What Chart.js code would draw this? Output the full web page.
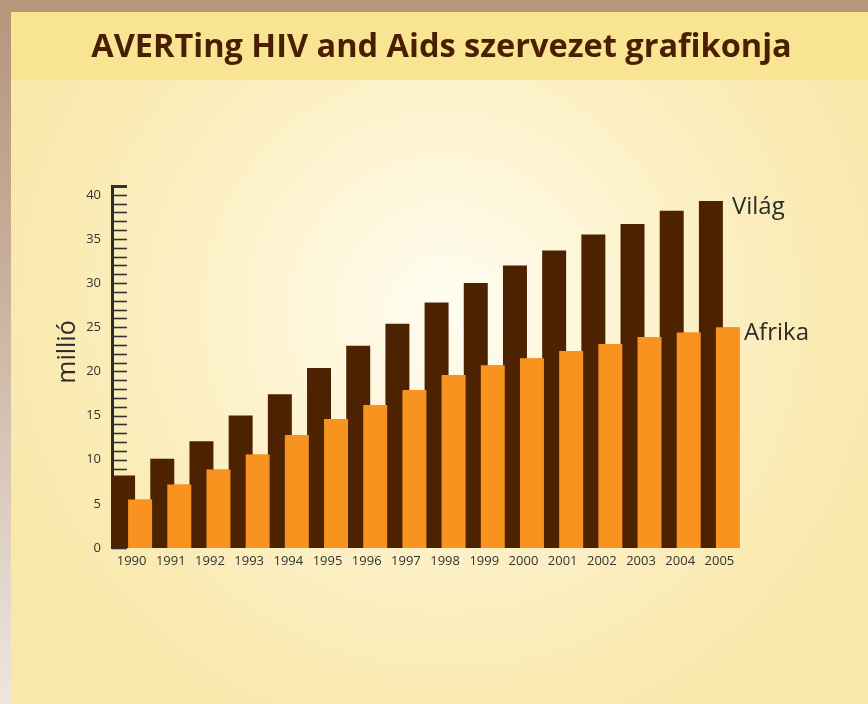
<!DOCTYPE html>
<html>
<head>
<meta charset="utf-8">
<script src="https://cdn.jsdelivr.net/npm/chart.js@4.4.1/dist/chart.umd.min.js"></script>
<style>
  html, body { margin: 0; padding: 0; }
  body { width: 868px; height: 704px; position: relative; overflow: hidden;
         background: linear-gradient(to bottom, #b6957a 0%, #c9b09c 40%, #ede6df 100%); }
  #topstrip { position: absolute; left: 0; top: 0; width: 868px; height: 12px; background: #b8977c; }
  #panel { position: absolute; left: 11px; top: 12px; width: 857px; height: 692px;
           background: radial-gradient(circle 480px at 435px 300px, #fffdf3 0%, #fef6d8 30%, #fcefc4 55%, #faebb3 80%, #f9e8aa 100%); }
  #band { position: absolute; left: 11px; top: 12px; width: 857px; height: 68px; background: #f9e494; }
  #wrap { position: absolute; left: 0; top: 0; width: 868px; height: 704px; }
</style>
</head>
<body>
<div id="topstrip"></div>
<div id="panel"></div>
<div id="band"></div>
<div id="wrap"><canvas id="c" width="868" height="704"></canvas></div>
<script>
const years = ['1990','1991','1992','1993','1994','1995','1996','1997','1998','1999','2000','2001','2002','2003','2004','2005'];
const vilag  = [8.2, 10.1, 12.1, 15.0, 17.4, 20.4, 22.9, 25.4, 27.8, 30.0, 32.0, 33.7, 35.5, 36.7, 38.2, 39.3];
const afrika = [5.5, 7.2, 8.9, 10.6, 12.8, 14.6, 16.2, 17.9, 19.6, 20.7, 21.5, 22.3, 23.1, 23.9, 24.4, 25.0];
const seriesNames = ['Világ', 'Afrika'];
const titleText = 'AVERTing HIV and Aids szervezet grafikonja';
const yTitle = 'millió';
const FONT = '"Open Sans", "Noto Sans", sans-serif';

const innerTicks = {
  id: 'innerTicks',
  beforeDatasetsDraw(chart) {
    const y = chart.scales.y, ctx = chart.ctx, x0 = chart.chartArea.left;
    ctx.save();
    ctx.strokeStyle = '#333333';
    y.ticks.forEach(t => {
      const py = Math.round(y.getPixelForValue(t.value)) + 0.5;
      ctx.lineWidth = t.value === y.max ? 3 : 1.6;
      ctx.beginPath(); ctx.moveTo(x0, py); ctx.lineTo(x0 + 15, py); ctx.stroke();
    });
    ctx.restore();
  }
};

const onTopAndLabels = {
  id: 'onTopAndLabels',
  afterDatasetsDraw(chart, args, opts) {
    const ctx = chart.ctx;
    const meta = chart.getDatasetMeta(1);
    ctx.save();
    meta.data.forEach(el => el.draw(ctx));
    ctx.restore();
    ctx.save();
    ctx.font = '24px ' + FONT;
    ctx.fillStyle = '#2b2b2b';
    ctx.textBaseline = 'middle';
    ctx.textAlign = 'left';
    chart.data.datasets.forEach((ds, i) => {
      const m = chart.getDatasetMeta(i);
      const el = m.data[m.data.length - 1];
      ctx.fillText(ds.label, el.x + el.width / 2 + opts.gaps[i], el.y + 6);
    });
    // y axis title
    const ca = chart.chartArea;
    ctx.translate(ca.left - 44, (ca.top + ca.bottom) / 2 - 15);
    ctx.rotate(-Math.PI / 2);
    ctx.textAlign = 'center';
    ctx.font = '25px ' + FONT;
    ctx.fillText(yTitle, 0, 0);
    ctx.restore();
  }
};

new Chart(document.getElementById('c'), {
  type: 'bar',
  data: {
    labels: years,
    datasets: [
      { label: seriesNames[0], data: vilag, backgroundColor: '#4d2200', yAxisID: 'y' },
      { label: seriesNames[1], data: afrika, backgroundColor: '#f7931e', yAxisID: 'y' }
    ]
  },
  options: {
    responsive: false,
    animation: false,
    devicePixelRatio: 1,
    barPercentage: 1.41,
    categoryPercentage: 0.868,
    layout: { padding: { left: 15, right: 0, top: 0, bottom: 126 } },
    plugins: {
      legend: { display: false },
      tooltip: { enabled: false },
      title: {
        display: true, text: titleText, color: '#4a1f00',
        font: { family: FONT, size: 32.5, weight: 'bold' },
        padding: { top: 28, bottom: 119.0 }
      },
      onTopAndLabels: { gaps: [9, 4] }
    },
    scales: {
      x: {
        grid: { display: false, drawTicks: false },
        border: { display: false },
        ticks: { color: '#333333', font: { family: FONT, size: 13 }, padding: 5, maxRotation: 0, autoSkip: false },
        afterFit(s) { s.height = 30; }
      },
      y: {
        min: 0, max: 41,
        grid: { display: false, drawTicks: false },
        border: { display: true, color: '#2b2b2b', width: 3 },
        ticks: { stepSize: 1, autoSkip: false, color: '#333333', padding: 11,
                 font: { family: FONT, size: 13 },
                 callback: v => (v % 5 === 0 ? String(v) : '') },
        afterFit(s) { s.width = 97; }
      },
      yRight: {
        position: 'right', min: 0, max: 41,
        grid: { display: false, drawTicks: false },
        border: { display: false },
        ticks: { display: false },
        afterFit(s) { s.width = 129; }
      }
    }
  },
  plugins: [innerTicks, onTopAndLabels]
});
</script>
</body>
</html>
